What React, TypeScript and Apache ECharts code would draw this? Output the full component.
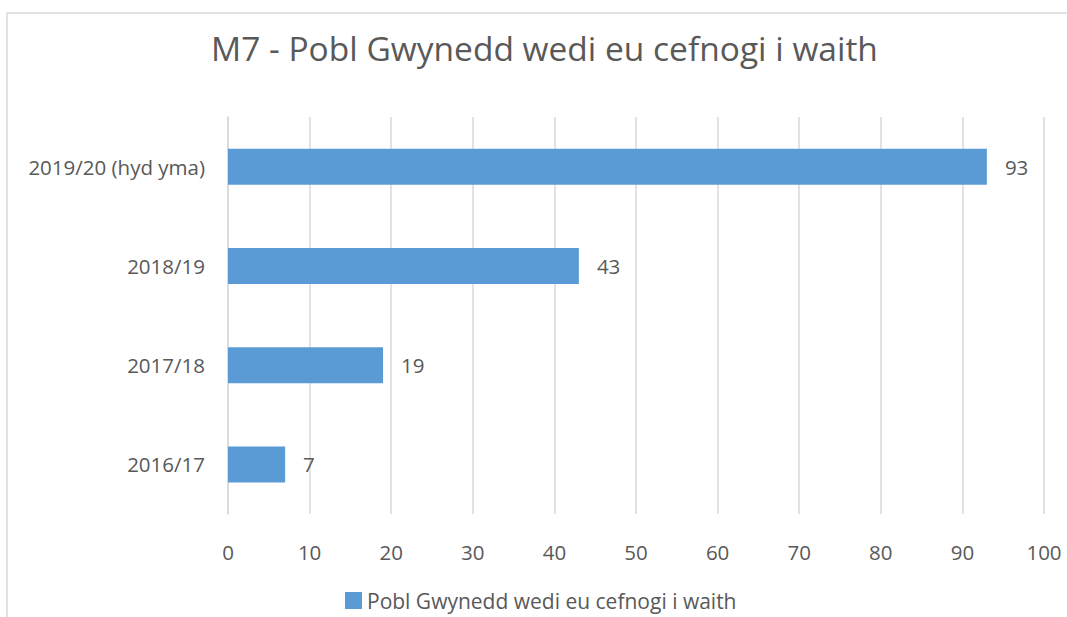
import React, { useEffect, useRef } from "react";
import * as echarts from "echarts";

const categories = ["2016/17", "2017/18", "2018/19", "2019/20 (hyd yma)"];
const values = [7, 19, 43, 93];
const seriesName = "Pobl Gwynedd wedi eu cefnogi i waith";
const title = "M7 - Pobl Gwynedd wedi eu cefnogi i waith";

const FONT = "'Open Sans', 'Noto Sans', sans-serif";
const TXT = "#595959";

export default function App() {
  const ref = useRef<HTMLDivElement>(null);
  useEffect(() => {
    document.body.style.margin = "0";
    const chart = echarts.init(ref.current!, null, { renderer: "svg" });
    chart.setOption({
      animation: false,
      backgroundColor: "#ffffff",
      textStyle: { fontFamily: FONT, color: TXT },
      title: {
        text: title,
        left: 211,
        top: 31,
        padding: 0,
        textStyle: { fontFamily: FONT, fontSize: 33.5, fontWeight: "normal", color: TXT },
      },
      graphic: [
        {
          type: "rect",
          shape: { x: 7, y: 13, width: 1080, height: 640 },
          style: { fill: "none", stroke: "#D9D9D9", lineWidth: 1.5 },
          silent: true,
        },
      ],
      legend: {
        left: 340,
        top: 585,
        itemWidth: 17,
        itemHeight: 17,
        itemGap: 10,
        icon: "rect",
        textStyle: { fontFamily: FONT, fontSize: 21, color: TXT },
        data: [seriesName],
      },
      grid: { left: 228, right: 23, top: 117, bottom: 103, containLabel: false },
      xAxis: {
        type: "value",
        min: 0,
        max: 100,
        interval: 10,
        axisLine: { show: false },
        axisTick: { show: false },
        splitLine: { show: true, lineStyle: { color: "#D9D9D9", width: 1.5 } },
        axisLabel: { fontFamily: FONT, fontSize: 20.5, color: TXT, margin: 27 },
      },
      yAxis: {
        type: "category",
        data: categories,
        axisLine: { show: true, lineStyle: { color: "#D9D9D9", width: 1.5 } },
        axisTick: { show: false },
        axisLabel: { fontFamily: FONT, fontSize: 20.5, color: TXT, margin: 23 },
      },
      series: [
        {
          name: seriesName,
          type: "bar",
          data: values,
          barWidth: 36,
          itemStyle: { color: "#5B9BD5" },
          label: {
            show: true,
            position: "right",
            distance: 18,
            fontFamily: FONT,
            fontSize: 20.5,
            color: TXT,
          },
        },
      ],
    });
    return () => chart.dispose();
  }, []);
  return <div ref={ref} style={{ width: 1067, height: 617 }} />;
}
